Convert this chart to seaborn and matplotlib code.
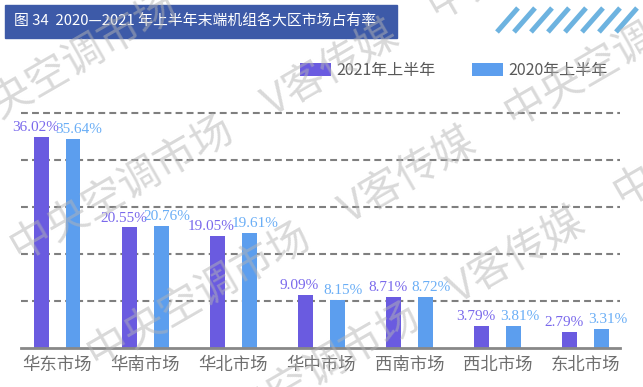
"""
Regional market share of terminal units, H1 2020 vs H1 2021
"""

import pandas as pd
import matplotlib
matplotlib.use("Agg")  # Non-interactive backend
import matplotlib.pyplot as plt
from matplotlib.lines import Line2D
from matplotlib.patches import Rectangle
import seaborn as sns

# Data
regions = ["华东市场", "华南市场", "华北市场", "华中市场", "西南市场", "西北市场", "东北市场"]
share_2021 = [36.02, 20.55, 19.05, 9.09, 8.71, 3.79, 2.79]
share_2020 = [35.64, 20.76, 19.61, 8.15, 8.72, 3.81, 3.31]
series_names = ["2021年上半年", "2020年上半年"]

TITLE = "图 34  2020—2021 年上半年末端机组各大区市场占有率"
WATERMARK = "中央空调市场\u3000V客传媒\u3000中央空调市场\u3000V客传媒"

BAR_COLORS = ["#6A5BE0", "#5C9EEE"]
LABEL_COLORS = ["#7A69EC", "#6AAEF6"]
TITLE_BG = "#3D5AA8"
STRIPE_COLOR = "#6DB3E0"

W, H = 643, 387


def fx(px):
    return px / W


def fy(py):
    return 1 - py / H


def plot_market_share(save_path="out.png"):
    sns.set_theme(style="white")
    plt.rcParams["font.family"] = ["Noto Sans CJK SC", "DejaVu Sans"]

    df = pd.DataFrame({
        "region": regions * 2,
        "series": [series_names[0]] * len(regions) + [series_names[1]] * len(regions),
        "share": share_2021 + share_2020,
    })

    fig = plt.figure(figsize=(W / 100, H / 100), dpi=100)
    ax = fig.add_axes([fx(21), 1 - 348 / H, 599 / W, (348 - 105) / H])

    sns.barplot(
        data=df, x="region", y="share", hue="series",
        order=regions, hue_order=series_names,
        palette=BAR_COLORS, width=0.72, gap=0.53,
        saturation=1, linewidth=0, ax=ax, legend=True,
    )

    # value labels, nudged apart a little so neighbours don't collide
    label_font = ["Liberation Serif", "DejaVu Serif"]
    for container, color, nudge in zip(ax.containers, LABEL_COLORS, [-6, 6]):
        texts = ax.bar_label(container, fmt="%.2f%%", padding=2, color=color,
                             fontsize=11, fontfamily=label_font)
        for t in texts:
            x, y = t.xyann
            t.xyann = (x + nudge * 0.72, y)

    ax.set_ylim(0, 41.4)
    ax.set_xlim(-0.41, 6.39)
    ax.set_yticks([8, 16, 24, 32, 40])
    ax.set_yticklabels([])
    ax.yaxis.grid(True, linestyle=(0, (3.3, 2)), color="#7F7F7F", linewidth=1.5)
    ax.set_axisbelow(True)
    ax.set_xlabel("")
    ax.set_ylabel("")
    for side in ["top", "right", "left"]:
        ax.spines[side].set_visible(False)
    ax.spines["bottom"].set_color("#888888")
    ax.spines["bottom"].set_linewidth(2)
    ax.tick_params(axis="x", length=0, pad=6, labelsize=12.5, labelcolor="#6E6E6E")
    ax.tick_params(axis="y", length=0)

    # legend
    handles, labels = ax.get_legend_handles_labels()
    ax.legend(
        handles, labels, ncol=2, frameon=False,
        loc="center left", bbox_to_anchor=(fx(300), fy(70.5)),
        bbox_transform=fig.transFigure, borderpad=0, borderaxespad=0,
        handlelength=1.95, handleheight=0.8, handletextpad=0.3,
        columnspacing=2.3, fontsize=11.5, labelcolor="#595959",
    )

    # title band
    fig.add_artist(Rectangle((fx(5), fy(38)), 392 / W, 33 / H,
                             transform=fig.transFigure, color=TITLE_BG, zorder=1))
    fig.text(fx(14), fy(21.5), TITLE, color="white", fontsize=10.7,
             ha="left", va="center", zorder=2)

    # decorative stripes
    for i in range(8):
        x0 = 497 + i * 17
        fig.add_artist(Line2D([fx(x0), fx(x0 + 21)], [fy(32), fy(8)],
                              transform=fig.transFigure, color=STRIPE_COLOR,
                              linewidth=3.6, solid_capstyle="butt"))

    # watermark
    for sx, sy in [(-42, 130), (14, 253), (91, 360), (200, 440)]:
        fig.text(fx(sx), fy(sy), WATERMARK, rotation=30, rotation_mode="anchor",
                 ha="left", va="center", fontsize=30, color="#B4B4B4",
                 alpha=0.5, zorder=10)

    plt.savefig(save_path, dpi=100)
    plt.close()


plot_market_share()
